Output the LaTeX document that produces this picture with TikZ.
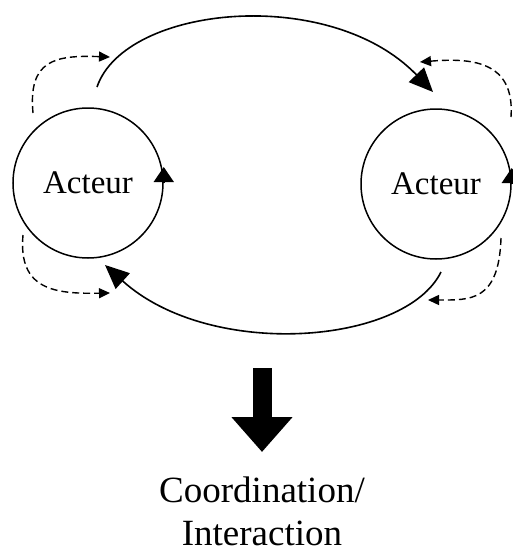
\documentclass[tikz,border=0pt]{standalone}
\usepackage{fontspec}
\setmainfont{Liberation Serif}
\usetikzlibrary{arrows.meta}
\begin{document}
\begin{tikzpicture}[x=1pt,y=-1pt,
  actor/.style={circle,draw,line width=1.5pt,minimum size=150pt,inner sep=0pt,font=\fontsize{33}{38}\selectfont},
  flow/.style={line width=1.6pt,-{Triangle[length=24pt,width=21pt]}},
  loopback/.style={line width=1.4pt,dash pattern=on 7pt off 4pt,-{Triangle[length=11pt,width=10pt]}},
  circarrow/.style={line width=1.5pt,-{Triangle[length=15pt,width=20pt]}},
  result/.style={align=center,inner sep=0pt,font=\fontsize{37}{43}\selectfont}]
\useasboundingbox (0,0) rectangle (513,552);
\fill[white] (0,0) rectangle (513,552);
\clip (0,0) rectangle (513,552);

\node[actor] (L) at (88,183) {Acteur};
\node[actor] (R) at (436,184) {Acteur};

% circle direction arrowheads
\draw[circarrow] (L.east) -- ++(0,-16);
\draw[circarrow] (R.east) -- ++(0,-16);

% main flows
\coordinate (t1) at (97,87);
\coordinate (t2) at (433,92);
\draw[flow] (t1) .. controls (125,5) and (330,-15) .. (t2);
\coordinate (b1) at (441,272);
\coordinate (b2) at (105,265);
\draw[flow] (b1) .. controls (405,345) and (210,360) .. (b2);

% dashed feedback loops
\coordinate (la1) at (33,113);
\coordinate (la2) at (110,57);
\draw[loopback] (la1) .. controls (28,60) and (55,55) .. (la2);
\coordinate (lb1) at (23,235);
\coordinate (lb2) at (110,293);
\draw[loopback] (lb1) .. controls (18,290) and (55,294) .. (lb2);
\coordinate (ra1) at (511,117);
\coordinate (ra2) at (420,62);
\draw[loopback] (ra1) .. controls (515,60) and (470,58) .. (ra2);
\coordinate (rb1) at (501,238);
\coordinate (rb2) at (428,300);
\draw[loopback] (rb1) .. controls (499,302) and (470,300) .. (rb2);

% result
\node[result,anchor=base] (T) at (262,545) {Coordination/\\Interaction};
\coordinate (d1) at (262,368);
\coordinate (d2) at (262,452);
\draw[line width=19pt,-{Triangle[length=35pt,width=59pt]}] (d1) -- (d2);
\end{tikzpicture}
\end{document}
